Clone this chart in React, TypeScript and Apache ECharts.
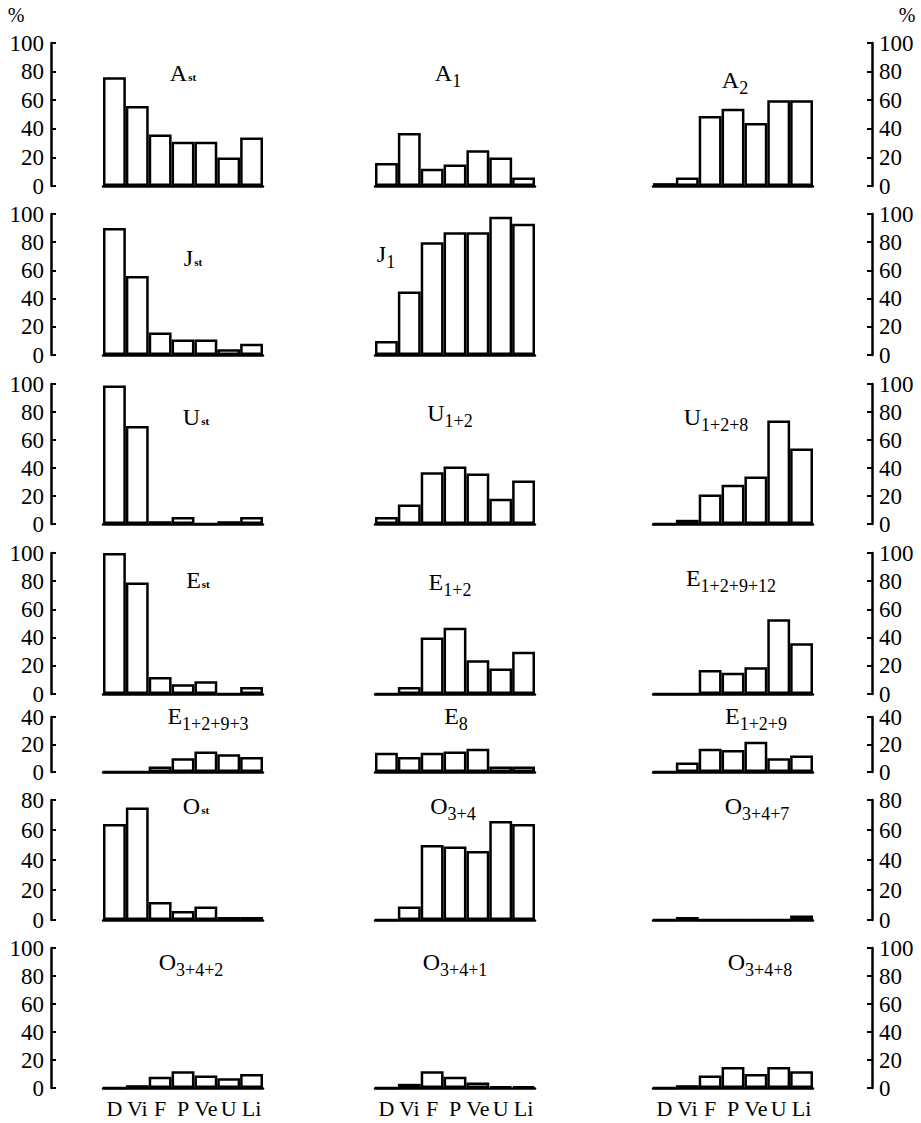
import React, { useEffect, useRef } from "react";
import * as echarts from "echarts";

const categories = ["D", "Vi", "F", "P", "Ve", "U", "Li"];

// Row value ranges (percent)
const rowMax = [100, 100, 100, 100, 40, 80, 100];

// Series values (%), per panel
const A_st = [76, 56, 36, 31, 31, 20, 34];
const A_1 = [16, 37, 12, 15, 25, 20, 6];
const A_2 = [2, 6, 49, 54, 44, 60, 60];
const J_st = [90, 56, 16, 11, 11, 4, 8];
const J_1 = [10, 45, 80, 87, 87, 98, 93];
const U_st = [99, 70, 2, 5, 0, 2, 5];
const U_12 = [5, 14, 37, 41, 36, 18, 31];
const U_128 = [0, 3, 21, 28, 34, 74, 54];
const E_st = [100, 79, 12, 7, 9, 0, 5];
const E_12 = [0, 5, 40, 47, 24, 18, 30];
const E_12912 = [0, 0, 17, 15, 19, 53, 36];
const E_1293 = [0, 0, 4, 10, 15, 13, 11];
const E_8 = [14, 11, 14, 15, 17, 4, 4];
const E_129 = [0, 7, 17, 16, 22, 10, 12];
const O_st = [64, 75, 12, 6, 9, 2, 2];
const O_34 = [0, 9, 50, 49, 46, 66, 64];
const O_347 = [0, 2, 0, 0, 0, 0, 3];
const O_342 = [0, 2, 8, 12, 9, 7, 10];
const O_341 = [0, 3, 12, 8, 4, 1, 1];
const O_348 = [0, 2, 9, 15, 10, 15, 12];

const panels = [
  { row: 0, col: 0, main: "A", sub: "st", data: A_st },
  { row: 0, col: 1, main: "A", sub: "1", data: A_1 },
  { row: 0, col: 2, main: "A", sub: "2", data: A_2 },
  { row: 1, col: 0, main: "J", sub: "st", data: J_st },
  { row: 1, col: 1, main: "J", sub: "1", data: J_1 },
  { row: 2, col: 0, main: "U", sub: "st", data: U_st },
  { row: 2, col: 1, main: "U", sub: "1+2", data: U_12 },
  { row: 2, col: 2, main: "U", sub: "1+2+8", data: U_128 },
  { row: 3, col: 0, main: "E", sub: "st", data: E_st },
  { row: 3, col: 1, main: "E", sub: "1+2", data: E_12 },
  { row: 3, col: 2, main: "E", sub: "1+2+9+12", data: E_12912 },
  { row: 4, col: 0, main: "E", sub: "1+2+9+3", data: E_1293 },
  { row: 4, col: 1, main: "E", sub: "8", data: E_8 },
  { row: 4, col: 2, main: "E", sub: "1+2+9", data: E_129 },
  { row: 5, col: 0, main: "O", sub: "st", data: O_st },
  { row: 5, col: 1, main: "O", sub: "3+4", data: O_34 },
  { row: 5, col: 2, main: "O", sub: "3+4+7", data: O_347 },
  { row: 6, col: 0, main: "O", sub: "3+4+2", data: O_342 },
  { row: 6, col: 1, main: "O", sub: "3+4+1", data: O_341 },
  { row: 6, col: 2, main: "O", sub: "3+4+8", data: O_348 },
];

// Layout (pixels)
const colLeft = [103, 375, 653];
const colWidth = 160;
const rowTop = [43, 214, 384, 553, 717, 800, 948];
const rowBottom = [186, 355, 524, 694, 772, 920, 1088];
const leftAxisX = 51;
const rightAxisX = 872;
const titlePos: Record<string, [number, number]> = {
  "0-0": [183, 73],
  "0-1": [448, 73],
  "0-2": [735, 80],
  "1-0": [193, 258],
  "1-1": [386, 254],
  "2-0": [196, 417],
  "2-1": [450, 413],
  "2-2": [716, 417],
  "3-0": [198, 580],
  "3-1": [450, 582],
  "3-2": [731, 578],
  "4-0": [208, 716],
  "4-1": [456, 716],
  "4-2": [756, 716],
  "5-0": [196, 806],
  "5-1": [453, 806],
  "5-2": [757, 806],
  "6-0": [191, 962],
  "6-1": [455, 962],
  "6-2": [760, 962],
};

const FONT = "'Liberation Serif', 'DejaVu Serif', serif";
const LW = 2.5;

export default function App() {
  const ref = useRef<HTMLDivElement>(null);
  useEffect(() => {
    document.body.style.margin = "0";
    if (!ref.current) return;
    const chart = echarts.init(ref.current, undefined, { renderer: "svg" });

    const grid: any[] = [];
    const xAxis: any[] = [];
    const yAxis: any[] = [];
    const series: any[] = [];
    const graphic: any[] = [];

    const axisStyle = (r: number, pos: "left" | "right", gi: number) => ({
      gridIndex: gi,
      type: "value",
      position: pos,
      min: 0,
      max: rowMax[r],
      interval: 20,
      splitLine: { show: false },
      axisLine: { show: true, lineStyle: { color: "#000", width: LW } },
      axisTick: { show: true, inside: true, length: 5, lineStyle: { color: "#000", width: 2 } },
      axisLabel: { fontSize: 23, fontFamily: FONT, color: "#000", margin: 7 },
    });

    panels.forEach((p) => {
      const gi = grid.length;
      grid.push({
        left: colLeft[p.col],
        width: colWidth,
        top: rowTop[p.row],
        height: rowBottom[p.row] - rowTop[p.row],
      });
      xAxis.push({
        gridIndex: gi,
        type: "category",
        data: categories,
        axisLine: { show: true, lineStyle: { color: "#000", width: LW } },
        axisTick: { show: false },
        axisLabel: {
          show: p.row === 6,
          interval: 0,
          fontSize: 22,
          fontFamily: FONT,
          color: "#000",
          margin: 9,
        },
      });
      yAxis.push({ gridIndex: gi, type: "value", min: 0, max: rowMax[p.row], show: false });
      series.push({
        type: "bar",
        xAxisIndex: gi,
        yAxisIndex: gi,
        data: p.data,
        barCategoryGap: "0%",
        barGap: "0%",
        itemStyle: { color: "#fff", borderColor: "#000", borderWidth: LW },
        silent: true,
      });
      const [tx, ty] = titlePos[`${p.row}-${p.col}`];
      const isSt = p.sub === "st";
      graphic.push({
        type: "text",
        x: tx,
        y: ty,
        style: {
          text: `{m|${p.main}}{${isSt ? "s" : "n"}|${p.sub}}`,
          align: "center",
          verticalAlign: "middle",
          rich: {
            m: { fontSize: 24, fontFamily: FONT, fill: "#000", lineHeight: 24, verticalAlign: "top" },
            s: {
              fontSize: 11,
              fontWeight: "bold",
              fontFamily: FONT,
              fill: "#000",
              lineHeight: 12,
              padding: [10, 0, 0, 1],
              verticalAlign: "top",
            },
            n: {
              fontSize: 18,
              fontFamily: FONT,
              fill: "#000",
              lineHeight: 16,
              padding: [11, 0, 0, 0],
              verticalAlign: "top",
            },
          },
        },
      });
    });

    rowMax.forEach((_, r) => {
      const h = rowBottom[r] - rowTop[r];
      const gl = grid.length;
      grid.push({ left: leftAxisX, width: 1, top: rowTop[r], height: h });
      xAxis.push({ gridIndex: gl, type: "category", data: [""], show: false });
      yAxis.push(axisStyle(r, "left", gl));
      const gr = grid.length;
      grid.push({ left: rightAxisX - 1, width: 1, top: rowTop[r], height: h });
      xAxis.push({ gridIndex: gr, type: "category", data: [""], show: false });
      yAxis.push(axisStyle(r, "right", gr));
    });

    graphic.push({
      type: "text",
      x: 16,
      y: 15,
      style: { text: "%", fontSize: 20, fontFamily: FONT, fill: "#000", align: "center", verticalAlign: "middle" },
    });
    graphic.push({
      type: "text",
      x: 907,
      y: 15,
      style: { text: "%", fontSize: 20, fontFamily: FONT, fill: "#000", align: "center", verticalAlign: "middle" },
    });

    chart.setOption({
      animation: false,
      backgroundColor: "#fff",
      grid,
      xAxis,
      yAxis,
      series,
      graphic,
    });
    return () => chart.dispose();
  }, []);
  return <div ref={ref} style={{ width: 921, height: 1123 }} />;
}
